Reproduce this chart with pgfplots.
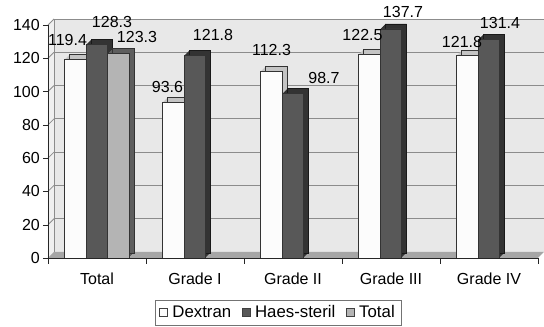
\documentclass[border=0pt]{standalone}
\usepackage{pgfplots}
\pgfplotsset{compat=1.18}
\usepackage{pgfplotstable}
\usepackage{fontspec}
\setmainfont{Liberation Sans}
\definecolor{wall}{HTML}{E8E8E8}
\definecolor{sidewall}{HTML}{F0F0F0}
\definecolor{gridc}{HTML}{8C8C8C}
\definecolor{floorc}{HTML}{A6A6A6}
\definecolor{edge}{HTML}{333333}
\definecolor{dexfront}{HTML}{FCFCFC}
\definecolor{dexdepth}{HTML}{C4C4C4}
\definecolor{haesfront}{HTML}{585858}
\definecolor{haesdepth}{HTML}{333333}
\definecolor{totfront}{HTML}{B4B4B4}
\definecolor{totdepth}{HTML}{5E5E5E}

\pgfplotstableread{
x y dx dy
0 119.4 -8 19
1 93.6 -6 15
2 112.3 0 21
3 122.5 -7 19
4 121.8 -5.5 13
}\dextran
\pgfplotstableread{
x y dx dy
0 128.3 15 22.5
1 121.8 18 20
2 98.7 31 16
3 137.7 12 17
4 131.4 11 16
}\haes
\pgfplotstableread{
x y dx dy
0 123.3 18.5 16
}\total

\begin{document}
\begin{tikzpicture}
\useasboundingbox (-36pt,-51.75pt) rectangle (372pt,193.5pt);
\begin{axis}[
  at={(0pt,0pt)}, anchor=south west,
  scale only axis, width=367.5pt, height=174.75pt,
  xmin=-0.5, xmax=4.5, ymin=0, ymax=140,
  clip=false, axis on top,
  axis x line=bottom, axis y line=left,
  axis line style={-, draw=black!85},
  ybar, bar width=16.125pt,
  ytick={0,20,...,140},
  tick align=outside,
  major tick length=3.75pt,
  minor tick length=4.5pt,
  tick style={draw=black!85},
  xtick={0,1,2,3,4},
  xticklabels={Total,Grade I,Grade II,Grade III,Grade IV},
  major x tick style={draw=none},
  minor xtick={-0.5,0.5,1.5,2.5,3.5,4.5},
  /pgf/number format/assume math mode=true,
  tick label style={font=\fontsize{12}{14}\selectfont},
  yticklabel style={inner sep=2.2pt},
  xticklabel style={yshift=-3.75pt},
  legend style={at={(0.470,-0.18)}, anchor=north, legend columns=3,
    draw=black!55, font=\fontsize{12.6}{14}\selectfont, inner xsep=3pt, inner ysep=2pt,
    /tikz/every odd column/.append style={column sep=1.5pt},
    /tikz/every even column/.append style={column sep=6pt}},
  legend image code/.code={\draw[#1, draw=black!75, line width=0.4pt] (0pt,-3pt) rectangle (6pt,3pt);},
]
% back wall
\fill[wall] ([xshift=4.5pt,yshift=4.5pt]axis cs:-0.5,0) rectangle ([xshift=4.5pt,yshift=4.5pt]axis cs:4.5,140);
% side wall
\fill[sidewall] (axis cs:-0.5,0) -- ([xshift=4.5pt,yshift=4.5pt]axis cs:-0.5,0) -- ([xshift=4.5pt,yshift=4.5pt]axis cs:-0.5,140) -- (axis cs:-0.5,140) -- cycle;
\pgfplotsinvokeforeach{20,40,60,80,100,120,140}{
  \draw[gridc, line width=0.6pt] ([xshift=4.5pt,yshift=4.5pt]axis cs:-0.5,#1) -- ([xshift=4.5pt,yshift=4.5pt]axis cs:4.5,#1);
  \draw[gridc, line width=0.6pt] (axis cs:-0.5,#1) -- ++(4.5pt,4.5pt);
}
\draw[gridc, line width=0.6pt] ([xshift=4.5pt,yshift=4.5pt]axis cs:-0.5,0) -- ([xshift=4.5pt,yshift=4.5pt]axis cs:-0.5,140);
% floor
\fill[floorc] (axis cs:-0.5,0) -- (axis cs:4.5,0) -- ([xshift=4.5pt,yshift=4.5pt]axis cs:4.5,0) -- ([xshift=4.5pt,yshift=4.5pt]axis cs:-0.5,0) -- cycle;

% Dextran
\pgfplotsinvokeforeach{3.75,3,2.25,1.5,0.75}{
  \addplot[forget plot, fill=dexdepth, draw=none, bar shift=-16.125pt, xshift=#1pt, yshift=#1pt] table[x=x,y=y] {\dextran};
}
\addplot[forget plot, fill=none, draw=edge, line width=0.4pt, bar shift=-16.125pt, xshift=3.75pt, yshift=3.75pt] table[x=x,y=y] {\dextran};
\addplot[fill=dexfront, draw=edge, line width=0.4pt, bar shift=-16.125pt,
  nodes near coords, point meta=explicit symbolic,
  visualization depends on={0.75*\thisrow{dx} \as \dx},
  visualization depends on={0.75*\thisrow{dy} \as \dy},
  every node near coord/.append style={anchor=center, font=\fontsize{12}{14}\selectfont, xshift=\dx pt, yshift=\dy pt}]
  table[x=x,y=y,meta=y] {\dextran};
\addlegendentry{Dextran}

% Haes-steril
\pgfplotsinvokeforeach{3.75,3,2.25,1.5,0.75}{
  \addplot[forget plot, fill=haesdepth, draw=none, bar shift=0pt, xshift=#1pt, yshift=#1pt] table[x=x,y=y] {\haes};
}
\addplot[forget plot, fill=none, draw=black!90, line width=0.4pt, bar shift=0pt, xshift=3.75pt, yshift=3.75pt] table[x=x,y=y] {\haes};
\addplot[fill=haesfront, draw=edge, line width=0.4pt, bar shift=0pt,
  nodes near coords, point meta=explicit symbolic,
  visualization depends on={0.75*\thisrow{dx} \as \dx},
  visualization depends on={0.75*\thisrow{dy} \as \dy},
  every node near coord/.append style={anchor=center, font=\fontsize{12}{14}\selectfont, xshift=\dx pt, yshift=\dy pt}]
  table[x=x,y=y,meta=y] {\haes};
\addlegendentry{Haes-steril}

% Total
\pgfplotsinvokeforeach{3.75,3,2.25,1.5,0.75}{
  \addplot[forget plot, fill=totdepth, draw=none, bar shift=16.125pt, xshift=#1pt, yshift=#1pt] table[x=x,y=y] {\total};
}
\addplot[forget plot, fill=none, draw=edge, line width=0.4pt, bar shift=16.125pt, xshift=3.75pt, yshift=3.75pt] table[x=x,y=y] {\total};
\addplot[fill=totfront, draw=edge, line width=0.4pt, bar shift=16.125pt,
  nodes near coords, point meta=explicit symbolic,
  visualization depends on={0.75*\thisrow{dx} \as \dx},
  visualization depends on={0.75*\thisrow{dy} \as \dy},
  every node near coord/.append style={anchor=center, font=\fontsize{12}{14}\selectfont, xshift=\dx pt, yshift=\dy pt}]
  table[x=x,y=y,meta=y] {\total};
\addlegendentry{Total}
\end{axis}
\end{tikzpicture}
\end{document}
